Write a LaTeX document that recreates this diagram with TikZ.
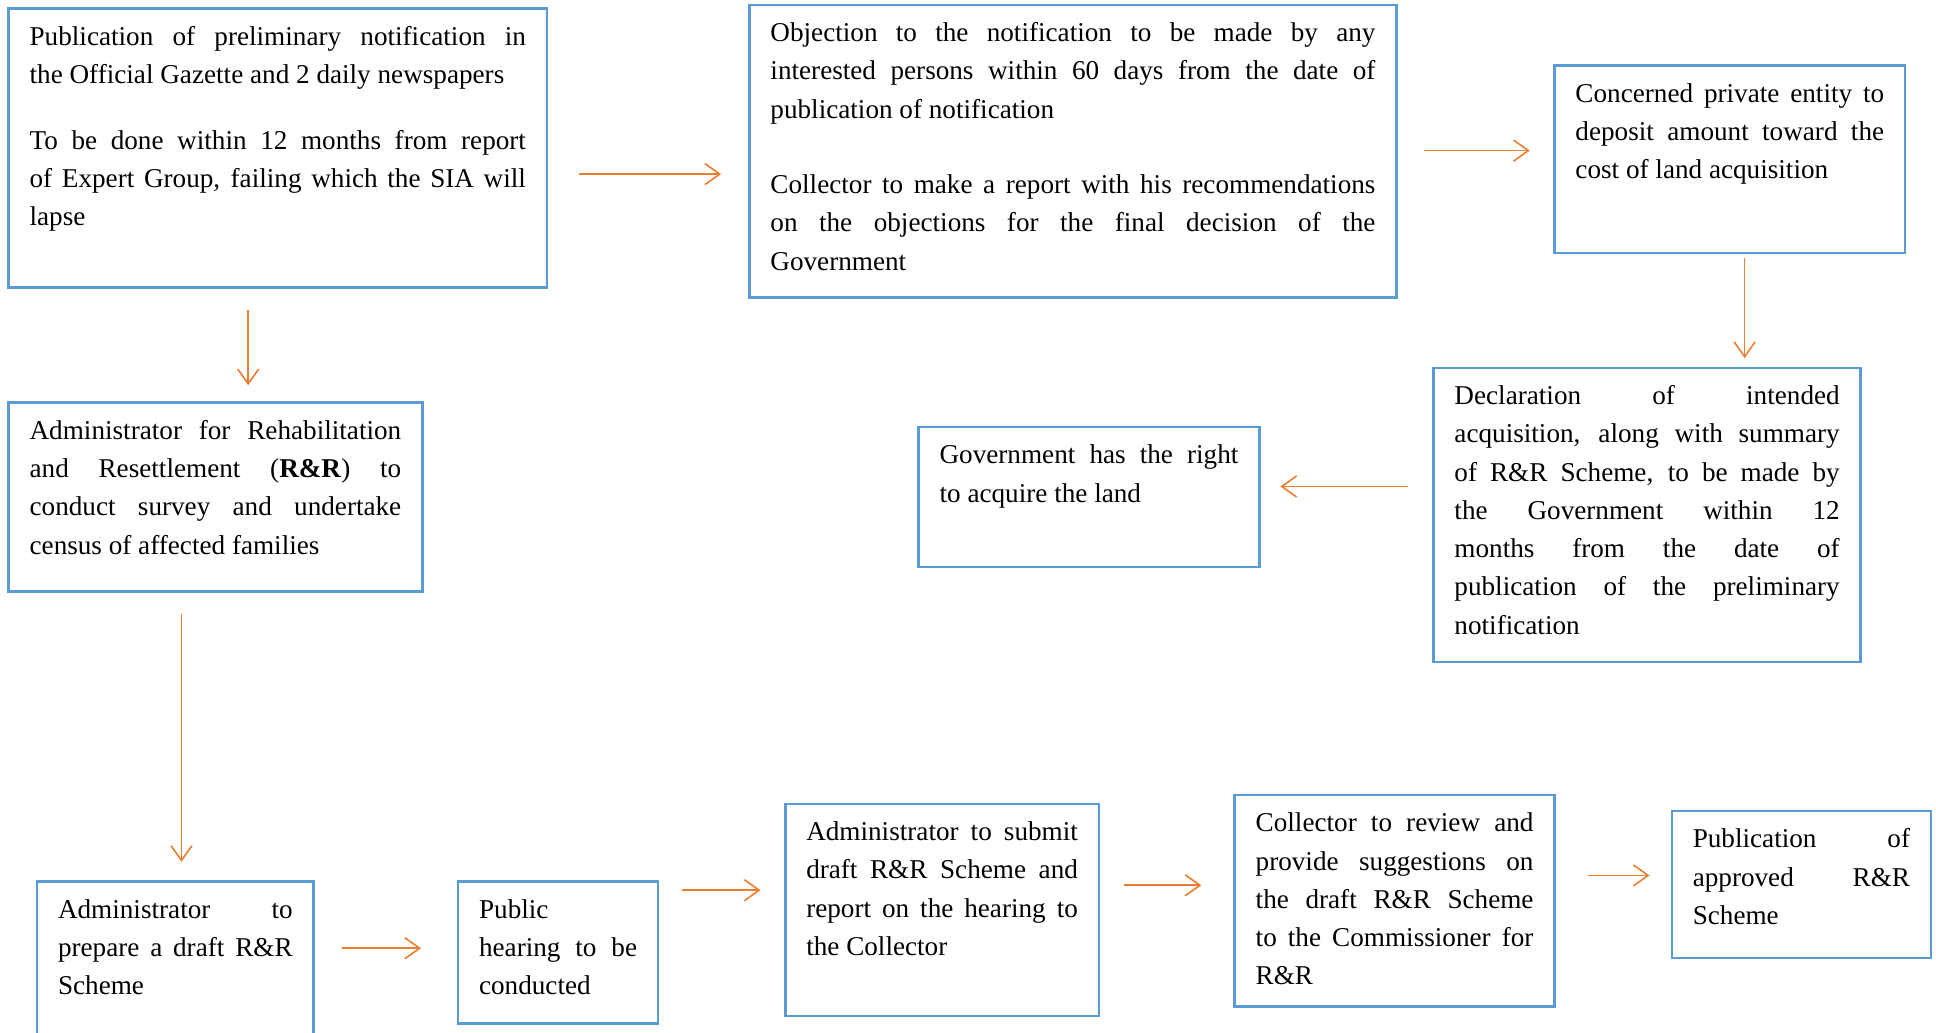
\documentclass[tikz,border=0pt]{standalone}
\usepackage{fontspec}
\setmainfont{Liberation Serif}
\usetikzlibrary{arrows.meta}
\definecolor{boxblue}{HTML}{5B9BD5}
\definecolor{arrorange}{HTML}{ED7D31}
\newcommand\bxt[3]{\parbox[t][#2pt][t]{#1pt}{\fontsize{22}{31}\selectfont\strut #3}}
\tikzset{
  box/.style={draw=boxblue, line width=2pt, anchor=north west, inner xsep=17pt, inner ysep=8pt, outer sep=0pt, rectangle, fill=white},
  arr/.style={draw=arrorange, line width=1.3pt, -{Straight Barb[length=12pt,width=17pt,line width=1.3pt]}}
}
\begin{document}
\begin{tikzpicture}[x=1pt,y=-1pt]
\useasboundingbox (0,0) rectangle (1568,836);
\fill[white] (0,0) rectangle (1568,836);

\node[box] (b1) at (7,7) {\bxt{402}{210}{Publication of preliminary notification in\linebreak the Official Gazette and 2 daily newspapers\par\vspace{22pt}\strut To be done within 12 months from report\linebreak of Expert Group, failing which the SIA will\linebreak lapse}};

\node[box] (b2) at (607,4) {\bxt{490}{221}{Objection to the notification to be made by any\linebreak interested persons within 60 days from the date of\linebreak publication of notification\par\vspace{30pt}\strut Collector to make a report with his recommendations\linebreak on the objections for the final decision of the\linebreak Government}};

\node[box] (b3) at (1259,53) {\bxt{250}{136}{Concerned private entity to\linebreak deposit amount toward the\linebreak cost of land acquisition}};

\node[box] (b4) at (1161,298) {\bxt{312}{222}{Declaration of intended\linebreak acquisition, along with summary\linebreak of R\&R Scheme, to be made by\linebreak the Government within 12\linebreak months from the date of\linebreak publication of the preliminary\linebreak notification}};

\node[box] (b5) at (744,346) {\bxt{242}{97}{Government has the right\linebreak to acquire the land}};

\node[box] (b6) at (7,326) {\bxt{301}{137}{Administrator for Rehabilitation\linebreak and Resettlement (\textbf{R\&R}) to\linebreak conduct survey and undertake\linebreak census of affected families}};

\node[box] (b7) at (30,714) {\bxt{190}{120}{Administrator to\linebreak prepare a draft R\&R\linebreak Scheme}};

\node[box] (b8) at (371,714) {\bxt{128}{99}{Public\linebreak hearing to be\linebreak conducted}};

\node[box] (b9) at (636,651) {\bxt{220}{156}{Administrator to submit\linebreak draft R\&R Scheme and\linebreak report on the hearing to\linebreak the Collector}};

\node[box] (b10) at (1000,644) {\bxt{225}{155}{Collector to review and\linebreak provide suggestions on\linebreak the draft R\&R Scheme\linebreak to the Commissioner for\linebreak R\&R}};

\node[box] (b11) at (1354,657) {\bxt{176}{103}{Publication of\linebreak approved R\&R\linebreak Scheme}};

\draw[arr] ([shift={(26,21)}]b1.east) -- ([shift={(-23,18.5)}]b2.west);
\draw[arr] ([shift={(22,-0.5)}]b2.east) -- ([shift={(-20,-7)}]b3.west);
\draw[arr] ([shift={(12,4)}]b3.south) -- ([shift={(79,-8)}]b4.north);
\draw[arr] ([shift={(-21,-23)}]b4.west) -- ([shift={(17,-8.5)}]b5.east);
\draw[arr] ([shift={(-24,18)}]b1.south) -- ([shift={(26.5,-14)}]b6.north);
\draw[arr] ([shift={(-27.5,18)}]b6.south) -- ([shift={(5,-16)}]b7.north);
\draw[arr] ([shift={(23,-14)}]b7.east) -- ([shift={(-30,-3.5)}]b8.west);
\draw[arr] ([shift={(19,-50.5)}]b8.east) -- ([shift={(-20,-16)}]b9.west);
\draw[arr] ([shift={(20,-20)}]b9.east) -- ([shift={(-27,-12.5)}]b10.west);
\draw[arr] ([shift={(27,-20.5)}]b10.east) -- ([shift={(-18,-7.5)}]b11.west);
\end{tikzpicture}
\end{document}
